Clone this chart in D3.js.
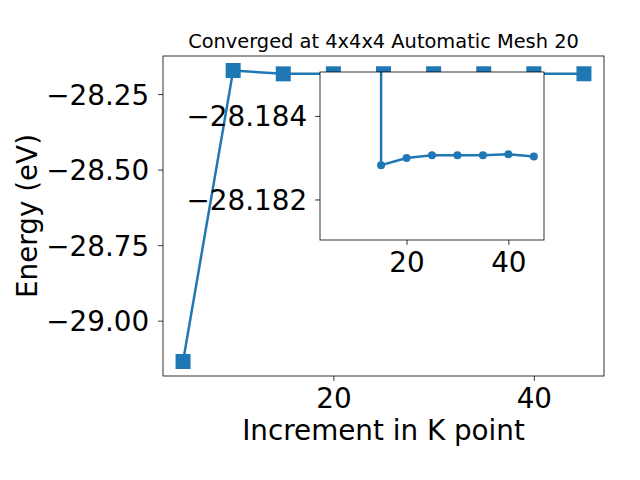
<!DOCTYPE html>
<html>
<head>
<meta charset="utf-8">
<title>K point convergence</title>
<style>
  body { margin: 0; background: #fff; }
  svg { display: block; }
  svg text { font-family: "DejaVu Sans", sans-serif; }
</style>
</head>
<body>
<div id="chart"></div>
<script src="https://d3js.org/d3.v7.min.js"></script>
<script>
// main series: k-point increment vs total energy
const kPoints = [5, 10, 15, 20, 25, 30, 35, 40, 45];
const energies = [-29.135, -28.172, -28.18306, -28.18289, -28.18282, -28.18282, -28.18282, -28.18280, -28.18285];

// inset: zoomed view of the converged tail
const insetK = [15, 15, 20, 25, 30, 35, 40, 45];
const insetE = [-28.172, -28.18306, -28.18289, -28.18282, -28.18282, -28.18282, -28.18280, -28.18285];

const xTicks = [20, 40];
const yTicks = [-28.25, -28.50, -28.75, -29.00];
const insetYTicks = [-28.18188, -28.18388];
const insetYTickLabels = ["\u221228.184", "\u221228.182"];

const title = "Converged at 4x4x4 Automatic Mesh 20";
const xLabel = "Increment in K point";
const yLabel = "Energy (eV)";

const W = 640, H = 480;
const color = "#1f77b4";
const FS = "27.8px";
const minus = s => s.replace("-", "\u2212");

const svg = d3.select("#chart").append("svg")
  .attr("width", W).attr("height", H);

// main axes frame
const m = { left: 163, right: 604, top: 56, bottom: 376 };
const x = d3.scaleLinear().domain([3, 47]).range([m.left, m.right]);
const y = d3.scaleLinear().domain([-29.183, -28.124]).range([m.bottom, m.top]);

const line = d3.line().x((d, i) => x(kPoints[i])).y(d => y(d));

svg.append("path")
  .datum(energies)
  .attr("d", line)
  .attr("fill", "none")
  .attr("stroke", color)
  .attr("stroke-width", 2.5);

svg.append("g").selectAll("rect")
  .data(energies)
  .enter().append("rect")
  .attr("x", (d, i) => x(kPoints[i]) - 7.5)
  .attr("y", d => y(d) - 7.5)
  .attr("width", 15).attr("height", 15)
  .attr("fill", color);

function styleAxis(a) {
  a.attr("font-family", null).attr("font-size", null);
  a.select(".domain").remove();
  a.selectAll(".tick line").attr("stroke", "#000").attr("stroke-width", 0.8);
  a.selectAll("text").style("font-size", FS).attr("fill", "#000");
}

const xAxis = svg.append("g")
  .attr("transform", `translate(0,${m.bottom})`)
  .call(d3.axisBottom(x).tickValues(xTicks).tickSize(4.9).tickPadding(7).tickFormat(d3.format("d")));
styleAxis(xAxis);

const yAxis = svg.append("g")
  .attr("transform", `translate(${m.left},0)`)
  .call(d3.axisLeft(y).tickValues(yTicks).tickSize(4.9).tickPadding(9)
    .tickFormat(d => minus(d3.format(".2f")(d))));
styleAxis(yAxis);
yAxis.selectAll("text").attr("dy", "0.36em");

svg.append("rect")
  .attr("x", m.left).attr("y", m.top)
  .attr("width", m.right - m.left).attr("height", m.bottom - m.top)
  .attr("fill", "none").attr("stroke", "#000").attr("stroke-width", 0.8);

svg.append("text")
  .attr("x", (m.left + m.right) / 2).attr("y", 47.5)
  .attr("text-anchor", "middle")
  .style("font-size", "19.4px")
  .text(title);

svg.append("text")
  .attr("x", (m.left + m.right) / 2).attr("y", 440)
  .attr("text-anchor", "middle")
  .style("font-size", FS)
  .text(xLabel);

svg.append("text")
  .attr("transform", `translate(37,${(m.top + m.bottom) / 2}) rotate(-90)`)
  .attr("text-anchor", "middle")
  .style("font-size", FS)
  .text(yLabel);

// inset
const n = { left: 320, right: 544, top: 72, bottom: 240 };
const ix = d3.scaleLinear().domain([3, 47]).range([n.left, n.right]);
const iy = d3.scaleLinear().domain([-28.18485, -28.18083]).range([n.bottom, n.top]);

svg.append("defs").append("clipPath").attr("id", "insetClip")
  .append("rect")
  .attr("x", n.left).attr("y", n.top)
  .attr("width", n.right - n.left).attr("height", n.bottom - n.top);

svg.append("rect")
  .attr("x", n.left).attr("y", n.top)
  .attr("width", n.right - n.left).attr("height", n.bottom - n.top)
  .attr("fill", "#fff");

const inset = svg.append("g").attr("clip-path", "url(#insetClip)");

inset.append("path")
  .datum(insetE)
  .attr("d", d3.line().x((d, i) => ix(insetK[i])).y(d => iy(d)))
  .attr("fill", "none")
  .attr("stroke", color)
  .attr("stroke-width", 2.5);

inset.selectAll("circle")
  .data(insetE.slice(1))
  .enter().append("circle")
  .attr("cx", (d, i) => ix(insetK[i + 1]))
  .attr("cy", d => iy(d))
  .attr("r", 4)
  .attr("fill", color);

const ixAxis = svg.append("g")
  .attr("transform", `translate(0,${n.bottom})`)
  .call(d3.axisBottom(ix).tickValues(xTicks).tickSize(4.9).tickPadding(7).tickFormat(d3.format("d")));
styleAxis(ixAxis);

const iyAxis = svg.append("g")
  .attr("transform", `translate(${n.left},0)`)
  .call(d3.axisLeft(iy).tickValues(insetYTicks).tickSize(4.9).tickPadding(8)
    .tickFormat((d, i) => insetYTickLabels[i]));
styleAxis(iyAxis);
iyAxis.selectAll("text").attr("dy", "0.36em");

svg.append("rect")
  .attr("x", n.left).attr("y", n.top)
  .attr("width", n.right - n.left).attr("height", n.bottom - n.top)
  .attr("fill", "none").attr("stroke", "#000").attr("stroke-width", 0.8);
</script>
</body>
</html>
